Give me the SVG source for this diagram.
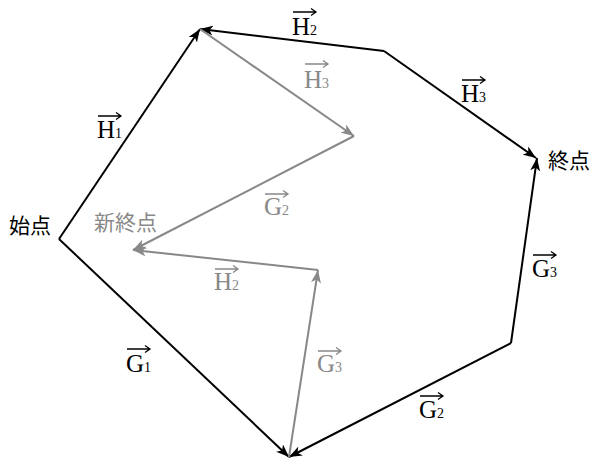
<svg xmlns="http://www.w3.org/2000/svg" width="597" height="460" viewBox="0 0 597 460">
<style>
.vb{fill:none;stroke:#000;stroke-width:2;marker-end:url(#hb)}
.vg{fill:none;stroke:#888;stroke-width:2;marker-end:url(#hg)}
.lt{font-family:"Liberation Serif","Times New Roman",serif;font-size:25px}
.sub{font-size:14px}
.cjk{font-family:"Noto Sans CJK JP","Noto Sans",sans-serif;font-size:21px}
.k{fill:#000}
.g{fill:#888}
.ok{fill:none;stroke:#000;stroke-width:1.3}
.og{fill:none;stroke:#888;stroke-width:1.3}
</style>
<defs>
<marker id="hb" markerUnits="userSpaceOnUse" viewBox="0 0 14 10" refX="13" refY="5" markerWidth="14" markerHeight="10" orient="auto">
<path d="M0,0 L13,5 L0,10 L3.5,5 Z" fill="#000"/>
</marker>
<marker id="hg" markerUnits="userSpaceOnUse" viewBox="0 0 14 10" refX="13" refY="5" markerWidth="14" markerHeight="10" orient="auto">
<path d="M0,0 L13,5 L0,10 L3.5,5 Z" fill="#888"/>
</marker>
<path id="ov" d="M0,0 H23 M18,-3.5 L23,0 L18,3.5"/>
</defs>
<rect width="597" height="460" fill="#fff"/>
<g id="connectors">
<path class="vb" d="M59,239 L200,29"/>
<path class="vb" d="M384,51 L200,29"/>
<path class="vb" d="M384,51 L536,158"/>
<path class="vb" d="M59,239 L289,457"/>
<path class="vb" d="M511,343 L289,457"/>
<path class="vb" d="M511,343 L537,158"/>
<path class="vg" d="M200,29 L354,136"/>
<path class="vg" d="M354,136 L133,250"/>
<path class="vg" d="M318,270 L133,250"/>
<path class="vg" d="M289,457 L318,270"/>
</g>
<g id="labels">
<g id="lbl-H1"><use href="#ov" class="ok" x="98" y="116"/><text class="lt k" x="97" y="138">H<tspan class="sub">1</tspan></text></g>
<g id="lbl-H2"><use href="#ov" class="ok" x="293" y="12"/><text class="lt k" x="292" y="35">H<tspan class="sub">2</tspan></text></g>
<g id="lbl-H3"><use href="#ov" class="ok" x="462" y="80"/><text class="lt k" x="461" y="102">H<tspan class="sub">3</tspan></text></g>
<g id="lbl-G1"><use href="#ov" class="ok" x="127" y="349"/><text class="lt k" x="126" y="372">G<tspan class="sub">1</tspan></text></g>
<g id="lbl-G2"><use href="#ov" class="ok" x="420" y="396"/><text class="lt k" x="419" y="418">G<tspan class="sub">2</tspan></text></g>
<g id="lbl-G3"><use href="#ov" class="ok" x="533" y="255"/><text class="lt k" x="532" y="277">G<tspan class="sub">3</tspan></text></g>
<g id="lbl-gH3"><use href="#ov" class="og" x="305" y="64"/><text class="lt g" x="304" y="88">H<tspan class="sub">3</tspan></text></g>
<g id="lbl-gG2"><use href="#ov" class="og" x="265" y="194"/><text class="lt g" x="264" y="215">G<tspan class="sub">2</tspan></text></g>
<g id="lbl-gH2"><use href="#ov" class="og" x="215" y="269"/><text class="lt g" x="214" y="290">H<tspan class="sub">2</tspan></text></g>
<g id="lbl-gG3"><use href="#ov" class="og" x="318" y="351"/><text class="lt g" x="317" y="372">G<tspan class="sub">3</tspan></text></g>
</g>
<g id="node-start"><text class="cjk k" x="9" y="233">始点</text></g>
<g id="node-end"><text class="cjk k" x="548" y="168">終点</text></g>
<g id="node-newend"><text class="cjk g" x="94" y="230">新終点</text></g>
</svg>
